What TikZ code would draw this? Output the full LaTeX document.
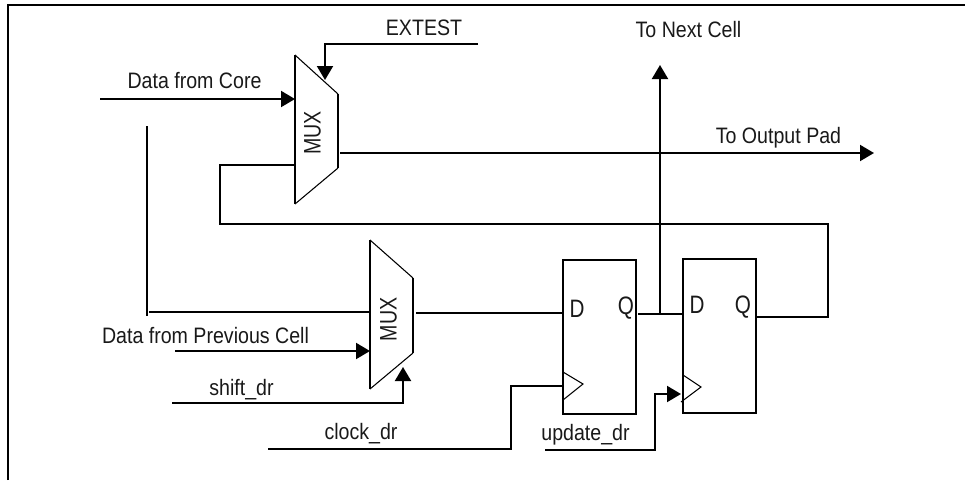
\documentclass[tikz,border=0pt]{standalone}
\usepackage{graphicx}
\usepackage{fontspec}
\setmainfont{Liberation Sans}
\usetikzlibrary{arrows.meta}
\newcommand{\tallText}[1]{\scalebox{1}[1.14]{#1}}
\newcommand{\tallPin}[1]{\scalebox{1}[1.22]{#1}}
\tikzset{
  x=0.75pt,y=-0.75pt,
  wire/.style={line width=1.5pt,draw=black},
  edge line/.style={line width=0.8pt,draw=black},
  arr/.style={line width=1.5pt,draw=black,-{Triangle[length=10.5pt,width=12pt]}},
  lbl/.style={inner sep=0pt,anchor=base,font=\fontsize{14.7pt}{16pt}\selectfont,text=black!90},
  pin/.style={lbl,font=\fontsize{15.5pt}{17pt}\selectfont},
  ff/.style={draw=black,line width=1.5pt,inner sep=0pt,outer sep=0pt,anchor=north west}
}
\begin{document}
\begin{tikzpicture}
\useasboundingbox (0,0) rectangle (965,480);
\draw[wire] (8,480) -- (8,5) -- (965,5);
% MUX 1
\coordinate (m1tl) at (295,55);
\coordinate (m1tr) at (338,94);
\coordinate (m1br) at (338,168);
\coordinate (m1bl) at (295,204);
\draw[edge line] (m1tl) -- (m1tr) (m1bl) -- (m1br);
\draw[line width=1.3pt] (m1tl) -- (m1bl);
\draw[wire] (m1tr) -- (m1br);
\node[lbl,rotate=90] (muxA) at (320.5,133) {\tallPin{MUX}};
% MUX 2
\coordinate (m2tl) at (370,240);
\coordinate (m2tr) at (413,278);
\coordinate (m2br) at (413,353);
\coordinate (m2bl) at (370,389);
\draw[edge line] (m2tl) -- (m2tr) (m2bl) -- (m2br);
\draw[line width=1.3pt] (m2tl) -- (m2bl);
\draw[wire] (m2tr) -- (m2br);
\node[lbl,rotate=90] (muxB) at (396.5,319.5) {\tallPin{MUX}};
% flip-flops
\node[ff,minimum width=54.75pt,minimum height=115.5pt] (ffA) at (563,260) {};
\node[ff,minimum width=54.75pt,minimum height=115.5pt] (ffB) at (683,259) {};
\draw[edge line] (563,372) -- (583,384) -- (563,400);
\draw[edge line] (683,375) -- (701,387) -- (681,402);
\node[pin] (dA) at (577,317) {\tallPin{D}};
\node[pin] (qA) at (626,314) {\tallPin{Q}};
\node[pin] (dB) at (697,313) {\tallPin{D}};
\node[pin] (qB) at (743,313) {\tallPin{Q}};
% connector ends
\coordinate (extestS) at (478,44);
\coordinate (extestC) at (325,44);
\coordinate (extestT) at (325,80);
\coordinate (coreS) at (100,99);
\coordinate (coreT) at (295,99);
\coordinate (vS) at (147,126);
\coordinate (vE) at (147,316);
\coordinate (hS) at (149,312);
\coordinate (hE) at (370,312);
\coordinate (fbA) at (295,165);
\coordinate (fbB) at (220,165);
\coordinate (fbC) at (220,224);
\coordinate (fbD) at (828,224);
\coordinate (fbE) at (828,317);
\coordinate (fbF) at (757,317);
\coordinate (outS) at (340,153);
\coordinate (outT) at (874,153);
\coordinate (nextS) at (660,314);
\coordinate (nextT) at (660,65);
\coordinate (qaS) at (638,314);
\coordinate (qaE) at (683,314);
\coordinate (mbS) at (416,313);
\coordinate (mbE) at (563,313);
\coordinate (clkA) at (268,449);
\coordinate (clkB) at (511,449);
\coordinate (clkC) at (511,386);
\coordinate (clkD) at (563,386);
\coordinate (updA) at (545,450);
\coordinate (updB) at (655,450);
\coordinate (updC) at (655,394);
\coordinate (updT) at (681,394);
\coordinate (shA) at (172,403);
\coordinate (shB) at (403,403);
\coordinate (shT) at (403,367);
\coordinate (prevS) at (175,351);
\coordinate (prevT) at (370,351);
% connectors
\draw[arr] (extestS) -- (extestC) -- (extestT);
\draw[arr] (coreS) -- (coreT);
\draw[wire] (vS) -- (vE);
\draw[wire] (hS) -- (hE);
\draw[wire] (fbA) -- (fbB) -- (fbC) -- (fbD) -- (fbE) -- (fbF);
\draw[arr] (outS) -- (outT);
\draw[arr] (nextS) -- (nextT);
\draw[wire] (qaS) -- (qaE);
\draw[wire] (mbS) -- (mbE);
\draw[wire] (clkA) -- (clkB) -- (clkC) -- (clkD);
\draw[arr] (updA) -- (updB) -- (updC) -- (updT);
\draw[arr] (shA) -- (shB) -- (shT);
\draw[arr] (prevS) -- (prevT);
% labels
\node[lbl] (tExtest) at (424,35) {\tallText{EXTEST}};
\node[lbl] (tCore) at (194.5,88) {\tallText{Data from Core}};
\node[lbl] (tPrev) at (205.5,343) {\tallText{Data from Previous Cell}};
\node[lbl] (tShift) at (241.5,395) {\tallText{shift\_dr}};
\node[lbl] (tClock) at (361,439) {\tallText{clock\_dr}};
\node[lbl] (tUpdate) at (585.5,440) {\tallText{update\_dr}};
\node[lbl] (tNext) at (688.5,37) {\tallText{To Next Cell}};
\node[lbl] (tPad) at (778.5,143) {\tallText{To Output Pad}};
\end{tikzpicture}
\end{document}
